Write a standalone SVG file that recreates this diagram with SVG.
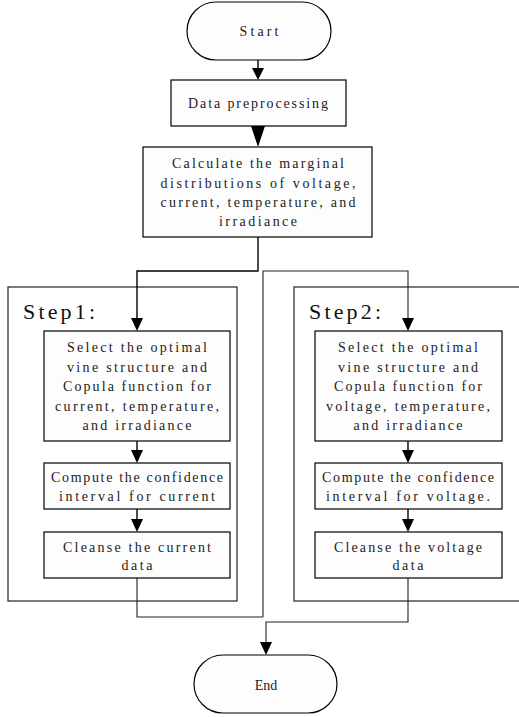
<svg xmlns="http://www.w3.org/2000/svg" width="519" height="717" viewBox="0 0 519 717">
<style>
.box{fill:#fdfdfd;stroke:#000;stroke-width:1.2}
.frame{fill:none;stroke:#333;stroke-width:1.3}
.t{font-family:"Liberation Serif","DejaVu Serif",serif;font-size:14px;fill:#222;text-anchor:middle;dominant-baseline:central}
.lbl{font-family:"Liberation Serif","DejaVu Serif",serif;font-size:22px;fill:#111;dominant-baseline:central}
.c{fill:none;stroke:#000;stroke-width:1.4}
.c2{fill:none;stroke:#222;stroke-width:1.1}
</style>
<g id="frames">
<rect class="frame" x="8" y="287" width="229" height="314"/>
<rect class="frame" x="294" y="287" width="240" height="314"/>
<text class="lbl" x="23" y="311" textLength="72" lengthAdjust="spacing">Step1:</text>
<text class="lbl" x="309" y="311" textLength="72" lengthAdjust="spacing">Step2:</text>
</g>
<g id="connectors">
<line class="c" x1="258" y1="60" x2="258" y2="68"/>
<polygon points="252,68 264,68 258,80" fill="#000"/>
<polygon points="251,126 265,126 258,147" fill="#000"/>
<path class="c" d="M258,237 V271 H137 V318"/>
<polygon points="131,318 143,318 137,331" fill="#000"/>
<path class="c2" d="M263,617 V271 H408 V318"/>
<polygon points="402,318 414,318 408,331" fill="#000"/>
<line class="c" x1="137" y1="441" x2="137" y2="451"/>
<polygon points="131,450 143,450 137,463" fill="#000"/>
<line class="c" x1="137" y1="509" x2="137" y2="520"/>
<polygon points="131,519 143,519 137,532" fill="#000"/>
<path class="c2" d="M137,578 V617 H263"/>
<line class="c" x1="408" y1="441" x2="408" y2="451"/>
<polygon points="402,450 414,450 408,463" fill="#000"/>
<line class="c" x1="408" y1="509" x2="408" y2="520"/>
<polygon points="402,519 414,519 408,532" fill="#000"/>
<path class="c2" d="M408,578 V622 H266 V643"/>
<polygon points="260,642 272,642 266,655" fill="#000"/>
</g>
<g id="start">
<rect class="box" x="187" y="2" width="144" height="58" rx="29" ry="29"/>
<text class="t" x="259" y="31" textLength="39" lengthAdjust="spacing">Start</text>
</g>
<g id="preprocess">
<rect class="box" x="171" y="80" width="175" height="46"/>
<text class="t" x="258" y="103" textLength="140" lengthAdjust="spacing">Data preprocessing</text>
</g>
<g id="marginal">
<rect class="box" x="143" y="147" width="229" height="90"/>
<text class="t" x="258" y="163" textLength="172" lengthAdjust="spacing">Calculate the marginal</text>
<text class="t" x="258" y="183" textLength="195" lengthAdjust="spacing">distributions of voltage,</text>
<text class="t" x="258" y="202" textLength="195" lengthAdjust="spacing">current, temperature, and</text>
<text class="t" x="258" y="221" textLength="78" lengthAdjust="spacing">irradiance</text>
</g>
<g id="select1">
<rect class="box" x="44" y="331" width="186" height="110"/>
<text class="t" x="137" y="347" textLength="140" lengthAdjust="spacing">Select the optimal</text>
<text class="t" x="137" y="367" textLength="140" lengthAdjust="spacing">vine structure and</text>
<text class="t" x="137" y="386" textLength="148" lengthAdjust="spacing">Copula function for</text>
<text class="t" x="137" y="406" textLength="164" lengthAdjust="spacing">current, temperature,</text>
<text class="t" x="137" y="425" textLength="109" lengthAdjust="spacing">and irradiance</text>
</g>
<g id="compute1">
<rect class="box" x="44" y="463" width="186" height="46"/>
<text class="t" x="137" y="477" textLength="172" lengthAdjust="spacing">Compute the confidence</text>
<text class="t" x="137" y="496" textLength="156" lengthAdjust="spacing">interval for current</text>
</g>
<g id="cleanse1">
<rect class="box" x="44" y="532" width="186" height="46"/>
<text class="t" x="137" y="547" textLength="148" lengthAdjust="spacing">Cleanse the current</text>
<text class="t" x="137" y="565" textLength="31" lengthAdjust="spacing">data</text>
</g>
<g id="select2">
<rect class="box" x="315" y="331" width="187" height="110"/>
<text class="t" x="408" y="347" textLength="140" lengthAdjust="spacing">Select the optimal</text>
<text class="t" x="408" y="367" textLength="140" lengthAdjust="spacing">vine structure and</text>
<text class="t" x="408" y="386" textLength="148" lengthAdjust="spacing">Copula function for</text>
<text class="t" x="408" y="406" textLength="164" lengthAdjust="spacing">voltage, temperature,</text>
<text class="t" x="408" y="425" textLength="109" lengthAdjust="spacing">and irradiance</text>
</g>
<g id="compute2">
<rect class="box" x="315" y="463" width="187" height="46"/>
<text class="t" x="408" y="477" textLength="172" lengthAdjust="spacing">Compute the confidence</text>
<text class="t" x="408" y="496" textLength="164" lengthAdjust="spacing">interval for voltage.</text>
</g>
<g id="cleanse2">
<rect class="box" x="315" y="532" width="187" height="46"/>
<text class="t" x="408" y="547" textLength="148" lengthAdjust="spacing">Cleanse the voltage</text>
<text class="t" x="408" y="565" textLength="31" lengthAdjust="spacing">data</text>
</g>
<g id="end">
<rect class="box" x="194" y="655" width="143" height="58" rx="29" ry="29"/>
<text x="266" y="685" font-family="Liberation Serif, serif" font-size="14" fill="#222" text-anchor="middle" dominant-baseline="central">End</text>
</g>
</svg>
